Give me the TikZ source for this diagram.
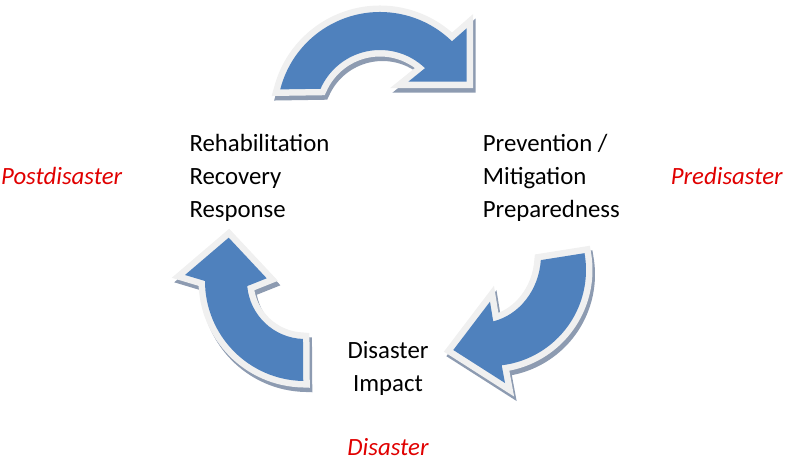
\documentclass[tikz,border=0pt]{standalone}
\usepackage{fontspec}
\setmainfont{Carlito}
\usetikzlibrary{calc}

\definecolor{arrowblue}{RGB}{79,129,189}
\definecolor{rimgray}{RGB}{240,240,240}
\definecolor{shadowgray}{RGB}{141,155,177}
\definecolor{phasered}{RGB}{224,0,0}

\begin{document}
\begin{tikzpicture}[x=1pt, y=-1pt,
  cyclearrow/.style={fill=arrowblue, line join=miter,
    preaction={draw=shadowgray, fill=shadowgray, line width=13pt, line join=miter,
      transform canvas={xshift=2.5pt, yshift=-4.5pt}},
    preaction={draw=rimgray, line width=13pt, line join=miter}},
  stage/.style={anchor=base west, inner sep=0pt, font=\fontsize{24.8}{33}\selectfont},
  phase/.style={anchor=base west, inner sep=0pt, text=phasered, font=\fontsize{24.8}{33}\selectfont\itshape}
]
\useasboundingbox (0,0) rectangle (785,465);

% centres of the three curved arrows
\coordinate (topc) at (380,115);
\coordinate (rightc) at (490,270);
\coordinate (rightin) at (480,255);
\coordinate (leftc) at (305,281);

% top arrow
\path[cyclearrow] ($(topc)+(194.4:103)$) arc[start angle=194.4, end angle=314.3, radius=103]
  -- (466.7,28.3) -- (466.7,81.7) -- (408.3,81.7)
  -- ($(topc)+(313.9:65)$) arc[start angle=313.9, end angle=203.8, radius=65] -- cycle;

% right arrow
\path[cyclearrow] ($(rightc)+(-10.1:96)$) arc[start angle=-10.1, end angle=83, radius=96]
  -- (505,383) -- (453.3,350) -- (490,301.7)
  -- ($(rightin)+(77.5:61 and 68)$) arc[start angle=77.5, end angle=4.3, x radius=61, y radius=68] -- cycle;

% left arrow
\path[cyclearrow] ($(leftc)+(91:100)$) arc[start angle=91, end angle=180, radius=100]
  -- (185,275) -- (228.7,237.7) -- (266.7,278.3)
  -- ($(leftc)+(175:58)$) arc[start angle=175, end angle=92, radius=58] -- cycle;

\node[stage] (rehab) at (189.3,152) {Rehabilitation};
\node[stage] (recovery) at (189.3,185) {Recovery};
\node[stage] (response) at (189.3,218) {Response};

\node[stage] (prevention) at (482.7,152) {Prevention /};
\node[stage] (mitigation) at (482.7,185) {Mitigation};
\node[stage] (preparedness) at (482.7,218) {Preparedness};

\node[stage, anchor=base] (disaster) at (388,358) {Disaster};
\node[stage, anchor=base] (impact) at (388,391) {Impact};

\node[phase] (postdis) at (1,185) {Postdisaster};
\node[phase] (predis) at (670.7,185) {Predisaster};
\node[phase, anchor=base] (disphase) at (388,455) {Disaster};
\end{tikzpicture}
\end{document}
